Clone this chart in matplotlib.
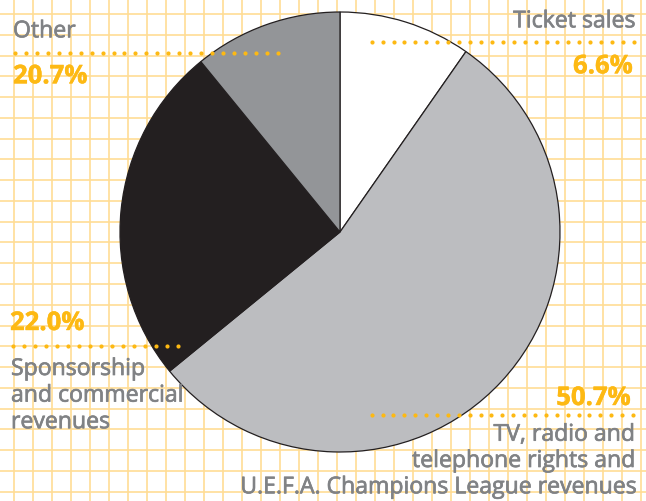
import matplotlib
matplotlib.use("Agg")
import matplotlib.pyplot as plt
import matplotlib.patheffects as pe
import numpy as np

# Data (slice shares as drawn, labels as printed)
categories = ["Ticket sales", "TV, radio and telephone rights and U.E.F.A. Champions League revenues",
              "Sponsorship and commercial revenues", "Other"]
shares_drawn = [9.7, 54.4, 25.0, 10.9]
pct_labels = ["6.6%", "50.7%", "22.0%", "20.7%"]
slice_colors = ["#FFFFFF", "#BCBDC0", "#231F20", "#939598"]

W, H = 646, 501
fig = plt.figure(figsize=(W / 100, H / 100), dpi=100)
ax = fig.add_axes([0, 0, 1, 1])
ax.set_xlim(0, W)
ax.set_ylim(0, H)
ax.axis("off")

def Y(yp):
    return H - yp

# grid paper
grid_col = "#FFDD95"
for k in range(40):
    x = 14 + 19.0 * k
    if x > W:
        break
    ax.plot([x, x], [0, H], color=grid_col, lw=1.2, zorder=0, solid_capstyle="butt")
for k in range(40):
    y = 14 + 20.77 * k
    if y > H:
        break
    ax.plot([0, W], [Y(y), Y(y)], color=grid_col, lw=1.2, zorder=0, solid_capstyle="butt")

# pie
wedges, _ = ax.pie(shares_drawn, colors=slice_colors, startangle=90, counterclock=False,
                   center=(340, Y(232)), radius=220, frame=True,
                   wedgeprops=dict(edgecolor="#231F20", linewidth=0.9))
for w in wedges:
    w.set_zorder(2)
ax.set_xlim(0, W)
ax.set_ylim(0, H)
ax.axis("off")

gold = "#FDB913"
grey = "#808285"

def dots(x0, x1, n, yp):
    xs = np.linspace(x0, x1, n)
    ax.plot(xs, [Y(yp)] * n, "o", color=gold, ms=3.0, mec="none", zorder=3)

dots(15, 277.7, 25, 53)
dots(371.7, 634, 25, 42.3)
dots(13.3, 177.7, 16, 345.7)
dots(371.7, 633, 25, 415)

ff = ["Open Sans", "DejaVu Sans"]
lab_fs = 16.6
pct_fs = 18.5
thick = [pe.withStroke(linewidth=0.5, foreground=grey)]
thick_g = [pe.withStroke(linewidth=0.3, foreground=gold)]

def lab(x, yp, s, ha):
    ax.text(x, Y(yp), s, fontsize=lab_fs, color=grey, family=ff, ha=ha, va="baseline",
            zorder=4, path_effects=thick)

def pct(x, yp, s, ha):
    ax.text(x, Y(yp), s, fontsize=pct_fs, color=gold, family=ff, weight="bold", ha=ha,
            va="baseline", zorder=4, path_effects=thick_g)

# Other
lab(13, 37.3, "Other", "left")
pct(13, 83.3, pct_labels[3], "left")
# Ticket sales
lab(635, 27.3, "Ticket sales", "right")
pct(633, 73.3, pct_labels[0], "right")
# Sponsorship
pct(10, 330, pct_labels[2], "left")
for i, line in enumerate(["Sponsorship", "and commercial", "revenues"]):
    lab(11, 375 + 26.6 * i, line, "left")
# TV
pct(631, 405, pct_labels[1], "right")
for i, line in enumerate(["TV, radio and", "telephone rights and", "U.E.F.A. Champions League revenues"]):
    lab(635, 440.7 + 26.3 * i, line, "right")

fig.savefig("out.png", dpi=100)
